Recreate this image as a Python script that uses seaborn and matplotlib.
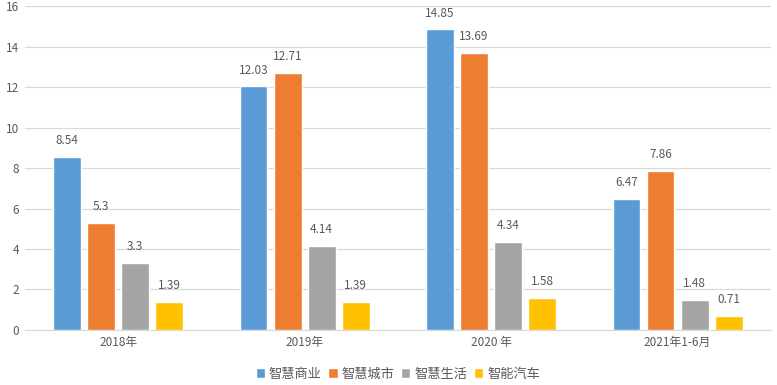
import matplotlib
matplotlib.use('Agg')

import pandas as pd
import seaborn as sns
import matplotlib.pyplot as plt

# === Data ===
years = ['2018年', '2019年', '2020 年', '2021年1-6月']
series = ['智慧商业', '智慧城市', '智慧生活', '智能汽车']
shangye = [8.54, 12.03, 14.85, 6.47]
chengshi = [5.3, 12.71, 13.69, 7.86]
shenghuo = [3.3, 4.14, 4.34, 1.48]
qiche = [1.39, 1.39, 1.58, 0.71]
label_text = {
    '智慧商业': ['8.54', '12.03', '14.85', '6.47'],
    '智慧城市': ['5.3', '12.71', '13.69', '7.86'],
    '智慧生活': ['3.3', '4.14', '4.34', '1.48'],
    '智能汽车': ['1.39', '1.39', '1.58', '0.71'],
}
colors = ['#5B9BD5', '#ED7D31', '#A5A5A5', '#FFC000']

rows = []
for name, vals in zip(series, [shangye, chengshi, shenghuo, qiche]):
    for y, v in zip(years, vals):
        rows.append({'year': y, 'series': name, 'value': v})
df = pd.DataFrame(rows)

# === Style ===
sns.set_style('white')
plt.rcParams['font.family'] = ['Noto Sans CJK SC', 'DejaVu Sans']
txt = '#595959'

fig = plt.figure(figsize=(7.77, 3.85), dpi=100)
ax = fig.add_axes([0.032, 0.143, 0.96, 0.841])

sns.barplot(data=df, x='year', y='value', hue='series', order=years,
            hue_order=series, palette=colors, width=0.73, gap=0.18,
            saturation=1, ax=ax, legend=True)

for cont, name in zip(ax.containers, series):
    ax.bar_label(cont, labels=label_text[name], padding=7, fontsize=8.5, color=txt)

ax.set_ylim(0, 16)
ax.set_yticks(range(0, 17, 2))
ax.set_xlim(-0.5, 3.5)
ax.yaxis.grid(True, color='#D9D9D9', linewidth=0.9)
ax.set_axisbelow(True)
for s in ['top', 'right', 'left']:
    ax.spines[s].set_visible(False)
ax.spines['bottom'].set_color('#D9D9D9')
ax.tick_params(axis='both', length=0, labelsize=8.5, colors=txt, pad=4)
ax.set_xlabel('')
ax.set_ylabel('')

handles, labels = ax.get_legend_handles_labels()
ax.legend(handles, labels, loc='lower center', bbox_to_anchor=(0.5, -0.185),
          ncol=4, frameon=False, fontsize=9.5, handlelength=0.7,
          handleheight=0.7, handletextpad=0.3, columnspacing=0.5,
          labelcolor=txt, borderpad=0.2)

plt.savefig('out.png', dpi=100)
plt.close()
